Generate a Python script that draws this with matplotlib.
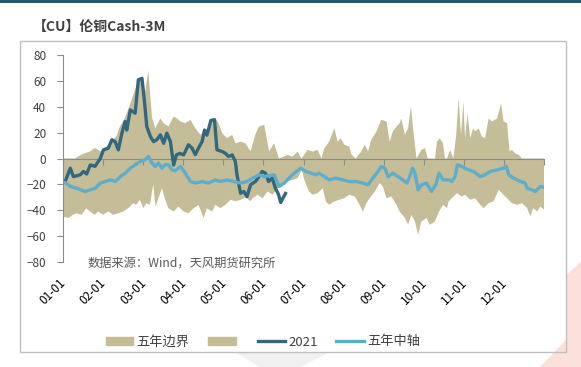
import matplotlib
matplotlib.use("Agg")
import matplotlib.pyplot as plt
import matplotlib.transforms as mtransforms
from matplotlib.lines import Line2D
from matplotlib.patches import Patch, Rectangle, Polygon
import numpy as np

plt.rcParams["font.family"] = ["Noto Sans CJK SC", "DejaVu Sans"]

# x positions are months since Jan 1 (0 = 01-01, 12 = year end)
month_labels = ["01-01", "02-01", "03-01", "04-01", "05-01", "06-01",
                "07-01", "08-01", "09-01", "10-01", "11-01", "12-01"]

upper_t = [0.00, 0.30, 0.46, 0.67, 0.79, 0.96, 1.13, 1.21, 1.33, 1.42, 1.54, 1.67, 1.75, 1.83,
           1.95, 2.03, 2.13, 2.22, 2.30, 2.43, 2.51, 2.63, 2.76, 2.84, 2.93, 3.05, 3.18, 3.30,
           3.43, 3.55, 3.68, 3.80, 3.88, 3.97, 4.09, 4.22, 4.30, 4.43, 4.55, 4.68, 4.76, 4.81,
           4.89, 5.02, 5.06, 5.14, 5.27, 5.33, 5.39, 5.60, 5.73, 5.85, 5.95, 6.10, 6.23, 6.35,
           6.45, 6.52, 6.64, 6.77, 6.85, 6.93, 7.02, 7.14, 7.20, 7.30, 7.44, 7.53, 7.61, 7.69,
           7.82, 7.94, 8.07, 8.15, 8.23, 8.32, 8.40, 8.44, 8.53, 8.61, 8.68, 8.75, 8.82, 8.94,
           9.03, 9.10, 9.28, 9.33, 9.40, 9.48, 9.53, 9.58, 9.66, 9.74, 9.81, 9.87, 9.93, 9.99,
           10.03, 10.09, 10.16, 10.23, 10.28, 10.37, 10.45, 10.53, 10.62, 10.70, 10.83, 10.93,
           10.99, 11.08, 11.14, 11.20, 11.28, 11.37, 11.45, 12.00]
upper_v = [0, 0, 3, 5.4, 8, 5.4, 10.6, 13, 17, 24.7, 31, 41.5, 49, 56,
           63, 48, 68, 32, 23.4, 31, 27.3, 24.7, 32.5, 31, 28.6, 27.3, 29.9, 23.4,
           18.3, 22, 26, 31, 27.3, 19.6, 15.7, 18.3, 11.8, 13, 11.8, 5.4, 14.5, 19.6,
           24.7, 26, 19.6, 5.4, 11.8, 5.4, 0, 2.8, 1.5, 5.4, 0, 6.7, 5.4, 6.7,
           0, 8, 13, 23.4, 13, 15.7, 10.6, 9.3, 3, 0, 5.4, 10.6, 5.4, 14.5,
           20.9, 29.9, 28.6, 13, 20.9, 24.7, 27.3, 31, 18.3, 23.4, 40.2, 18.3, 0, 6.7,
           8, 0, 0, 13, 15.7, 11.8, 0, 0, 6.7, 0, 18.3, 46.6, 18.3, 44,
           15.7, 35, 15.7, 23.4, 20.9, 23.4, 17, 15.7, 31, 28.6, 31, 42.7,
           28.6, 27.3, 5.4, 6.7, 4, 2.8, 0, 0]

lower_t = [0.00, 0.13, 0.25, 0.33, 0.46, 0.58, 0.67, 0.79, 0.88, 1.00, 1.13, 1.25, 1.38, 1.50,
           1.63, 1.75, 1.83, 1.92, 2.00, 2.08, 2.17, 2.25, 2.31, 2.38, 2.47, 2.55, 2.63, 2.76,
           2.88, 3.01, 3.13, 3.26, 3.38, 3.51, 3.59, 3.72, 3.80, 3.93, 4.05, 4.18, 4.30, 4.43,
           4.55, 4.68, 4.73, 4.85, 4.98, 5.10, 5.23, 5.35, 5.48, 5.60, 5.73, 5.85, 5.96, 6.02,
           6.14, 6.23, 6.35, 6.48, 6.56, 6.64, 6.77, 6.89, 7.02, 7.14, 7.28, 7.40, 7.48, 7.57,
           7.65, 7.78, 7.90, 7.98, 8.07, 8.19, 8.32, 8.40, 8.53, 8.61, 8.69, 8.78, 8.86, 8.94,
           9.07, 9.15, 9.28, 9.38, 9.48, 9.58, 9.62, 9.70, 9.83, 9.95, 10.03, 10.16, 10.28,
           10.41, 10.49, 10.62, 10.74, 10.87, 10.95, 11.08, 11.20, 11.33, 11.45, 11.58, 11.66,
           11.73, 11.83, 11.91, 12.00]
lower_v = [-44.8, -46, -43.5, -42.3, -43.5, -38.4, -41, -43.5, -41, -43.5, -41, -43.5, -42.3, -41,
           -38.4, -34.5, -35.8, -31.9, -38.4, -34.5, -35.8, -20, -37.1, -30.7, -23, -31.9, -38.4, -41,
           -37.1, -41, -42.3, -38.4, -35.8, -46, -38.4, -41, -35.8, -38.4, -35.8, -31.9, -33, -32,
           -30, -33, -30.7, -28, -30.7, -25.5, -28, -23, -20.3, -17.8, -16.5, -15.2, -8.8, -16.5,
           -25.5, -28, -26.8, -23, -33.2, -35.8, -33.2, -31.9, -30.7, -28, -29.4, -35.8, -41, -34.5,
           -30.7, -25.5, -19, -21.6, -30.7, -29.4, -35.8, -41, -46, -51.2, -43.5, -48.7, -59, -48.7,
           -46, -51.2, -48.7, -41, -35.8, -38.4, -33.2, -30.7, -26.8, -29.4, -28, -31.9, -30.7,
           -35.8, -38.4, -34.5, -33.2, -24.2, -26.8, -30.7, -34.5, -35.8, -34.5, -38.4, -44.8,
           -38.4, -41, -37.1, -39.6]

mid_t = [0.07, 0.18, 0.34, 0.55, 0.68, 0.80, 0.93, 1.05, 1.18, 1.30, 1.43, 1.55, 1.68, 1.80,
         1.93, 2.05, 2.13, 2.22, 2.30, 2.38, 2.47, 2.55, 2.63, 2.72, 2.80, 2.93, 3.05, 3.18,
         3.30, 3.47, 3.63, 3.80, 3.93, 4.09, 4.26, 4.43, 4.59, 4.73, 4.89, 5.02, 5.27, 5.39,
         5.52, 5.64, 5.77, 5.93, 6.06, 6.18, 6.31, 6.39, 6.52, 6.64, 6.81, 6.98, 7.14, 7.32,
         7.48, 7.61, 7.73, 7.86, 7.94, 8.03, 8.11, 8.23, 8.36, 8.48, 8.58, 8.65, 8.72, 8.78,
         8.86, 8.94, 9.07, 9.19, 9.30, 9.38, 9.48, 9.61, 9.70, 9.78, 9.84, 9.95, 10.03, 10.12,
         10.24, 10.41, 10.53, 10.66, 10.83, 10.99, 11.06, 11.12, 11.24, 11.41, 11.53, 11.58,
         11.70, 11.78, 11.91, 12.00]
mid_v = [-19, -21.6, -23, -25.5, -24.2, -23, -19, -17.8, -16.5, -17.8, -14, -11.3, -7.5, -4.9,
         -2.3, -1, 1.5, -3.6, -6.2, -3.6, -7.5, -4.9, -4.9, -8.8, -9.5, -6.2, -11.3, -17.8,
         -19, -17.8, -19, -16.5, -17.8, -16.5, -17.8, -19, -17.8, -15.2, -12.6, -14, -12.6, -21.6,
         -19, -15.2, -11.3, -7.5, -10, -11.3, -12.6, -11.3, -14, -16.5, -15.2, -16.5, -17.8, -17.8,
         -19, -20.3, -15.2, -10, -6.2, -7.5, -14, -11.3, -14, -16.5, -19, -14, -7.5, -11.3,
         -24.2, -20.3, -19, -25.5, -20.3, -11.3, -16.5, -16.5, -17.8, -14, -4.9, -6.2, -7.5, -8.8,
         -10, -14, -12.6, -10, -8.8, -7.5, -6.2, -12.6, -15.2, -17.8, -19, -23,
         -24.2, -25.5, -21.6, -22.4]

y2021_t = [0.07, 0.18, 0.26, 0.43, 0.51, 0.59, 0.68, 0.80, 0.93, 1.01, 1.13, 1.22, 1.30, 1.38,
           1.47, 1.55, 1.59, 1.68, 1.80, 1.88, 1.97, 2.03, 2.09, 2.18, 2.26, 2.34, 2.43, 2.51,
           2.59, 2.68, 2.76, 2.83, 2.91, 3.01, 3.13, 3.22, 3.30, 3.38, 3.47, 3.53, 3.59, 3.69,
           3.78, 3.84, 3.97, 4.05, 4.13, 4.22, 4.30, 4.34, 4.43, 4.51, 4.59, 4.68, 4.80, 4.86,
           4.97, 5.05, 5.13, 5.22, 5.30, 5.38, 5.43, 5.55]
y2021_v = [-16.5, -7.5, -14, -12.6, -10, -12, -5, -6, 0, 6.7, 8, 14.5, 13, 6.7,
           19.6, 28.6, 22, 37.6, 35, 60.8, 62, 45, 24.7, 17, 13, 14.5, 18.3, 11.8,
           19.6, 13, -5, 2.8, 4, 2.8, 10.6, 8, 3, 8, 13, 22, 18, 29.4,
           30, 6.7, 5.4, 4, 1.5, 2.8, -2.3, -12.6, -26.8, -25.5, -29.4, -20.3, -17.8, -15.2,
           -10, -11.3, -17.8, -15.2, -23, -28, -34, -27]

BAND = "#C4BD97"
DARK = "#31687E"
LIGHT = "#5DADCC"
GRAY = "#8C8C8C"
TXT = "#404040"

fig = plt.figure(figsize=(5.81, 3.67), dpi=100)
W, H = 581, 367


def fpts(pts):
    # pixel coords (from top-left) -> figure fraction
    return [(x / W, 1 - y / H) for x, y in pts]


# faint watermark behind the chart, header stripe, title, chart frame
fig.add_artist(Polygon(fpts([(566, 275), (581, 262), (581, 367), (540, 367), (566, 340)]),
                       transform=fig.transFigure, color="#FBE1D9", lw=0, zorder=-5))
fig.add_artist(Polygon(fpts([(235, 352), (330, 352), (300, 367), (260, 367)]),
                       transform=fig.transFigure, color="#F0F0F0", lw=0, zorder=-5))
fig.add_artist(Rectangle((0, 1 - 3 / H), 1, 3 / H, transform=fig.transFigure,
                         color="#1F5874", lw=0))
fig.text(33 / W, 1 - 27 / H, "【CU】伦铜Cash-3M", fontsize=10, fontweight="bold",
         color=TXT, va="center", ha="left")
fig.add_artist(Rectangle((20 / W, 1 - 352 / H), 546 / W, 311 / H, transform=fig.transFigure,
                         fill=False, ec="#BFBFBF", lw=1))

ax = fig.add_axes([63 / W, 1 - 262 / H, 481 / W, 207 / H])
ax.patch.set_alpha(0)
ax.fill(np.r_[upper_t, lower_t[::-1]], np.r_[upper_v, lower_v[::-1]],
        color=BAND, lw=0, zorder=1)
ax.plot(y2021_t, y2021_v, color=DARK, lw=2.4, zorder=3, solid_joinstyle="round")
ax.plot(mid_t, mid_v, color=LIGHT, lw=2.4, zorder=3, solid_joinstyle="round")

ax.set_xlim(0, 12)
ax.set_ylim(-80, 80)
ax.set_yticks(np.arange(-80, 81, 20))
ax.tick_params(axis="y", direction="out", length=4, width=0.8, color=GRAY,
               labelsize=8.5, labelcolor=TXT, pad=8)
ax.spines["top"].set_visible(False)
ax.spines["right"].set_visible(False)
ax.spines["left"].set_color(GRAY)
ax.spines["bottom"].set_position(("data", 0))
ax.spines["bottom"].set_color(GRAY)
ax.spines["bottom"].set_zorder(2)
ax.set_xticks(np.arange(0, 13))
ax.tick_params(axis="x", direction="out", length=4, width=0.8, color=GRAY, labelbottom=False)

sec = ax.secondary_xaxis("bottom")
sec.set_xticks(np.arange(12), month_labels)
sec.spines["bottom"].set_visible(False)
sec.tick_params(length=0, pad=10, labelsize=8.5, labelcolor="black")
shift = mtransforms.ScaledTranslation(4 / 72, 0, fig.dpi_scale_trans)
for lbl in sec.get_xticklabels():
    lbl.set_rotation(45)
    lbl.set_ha("right")
    lbl.set_transform(lbl.get_transform() + shift)

fig.text(88 / W, 1 - 263 / H, "数据来源：Wind，天风期货研究所", fontsize=8.8,
         style="italic", color="#595959", va="center", ha="left")

handles = [Patch(color=BAND), Patch(color=BAND),
           Line2D([], [], color=DARK, lw=2.4), Line2D([], [], color=LIGHT, lw=2.4)]
labels = ["五年边界", "", "2021", "五年中轴"]
fig.legend(handles, labels, loc="center", bbox_to_anchor=(263 / W, 1 - 342 / H), ncol=4,
           frameon=False, fontsize=9.5, labelcolor=TXT, handlelength=2.1, handleheight=0.5,
           handletextpad=0.25, columnspacing=1.4)

fig.savefig("out.png", dpi=100)
